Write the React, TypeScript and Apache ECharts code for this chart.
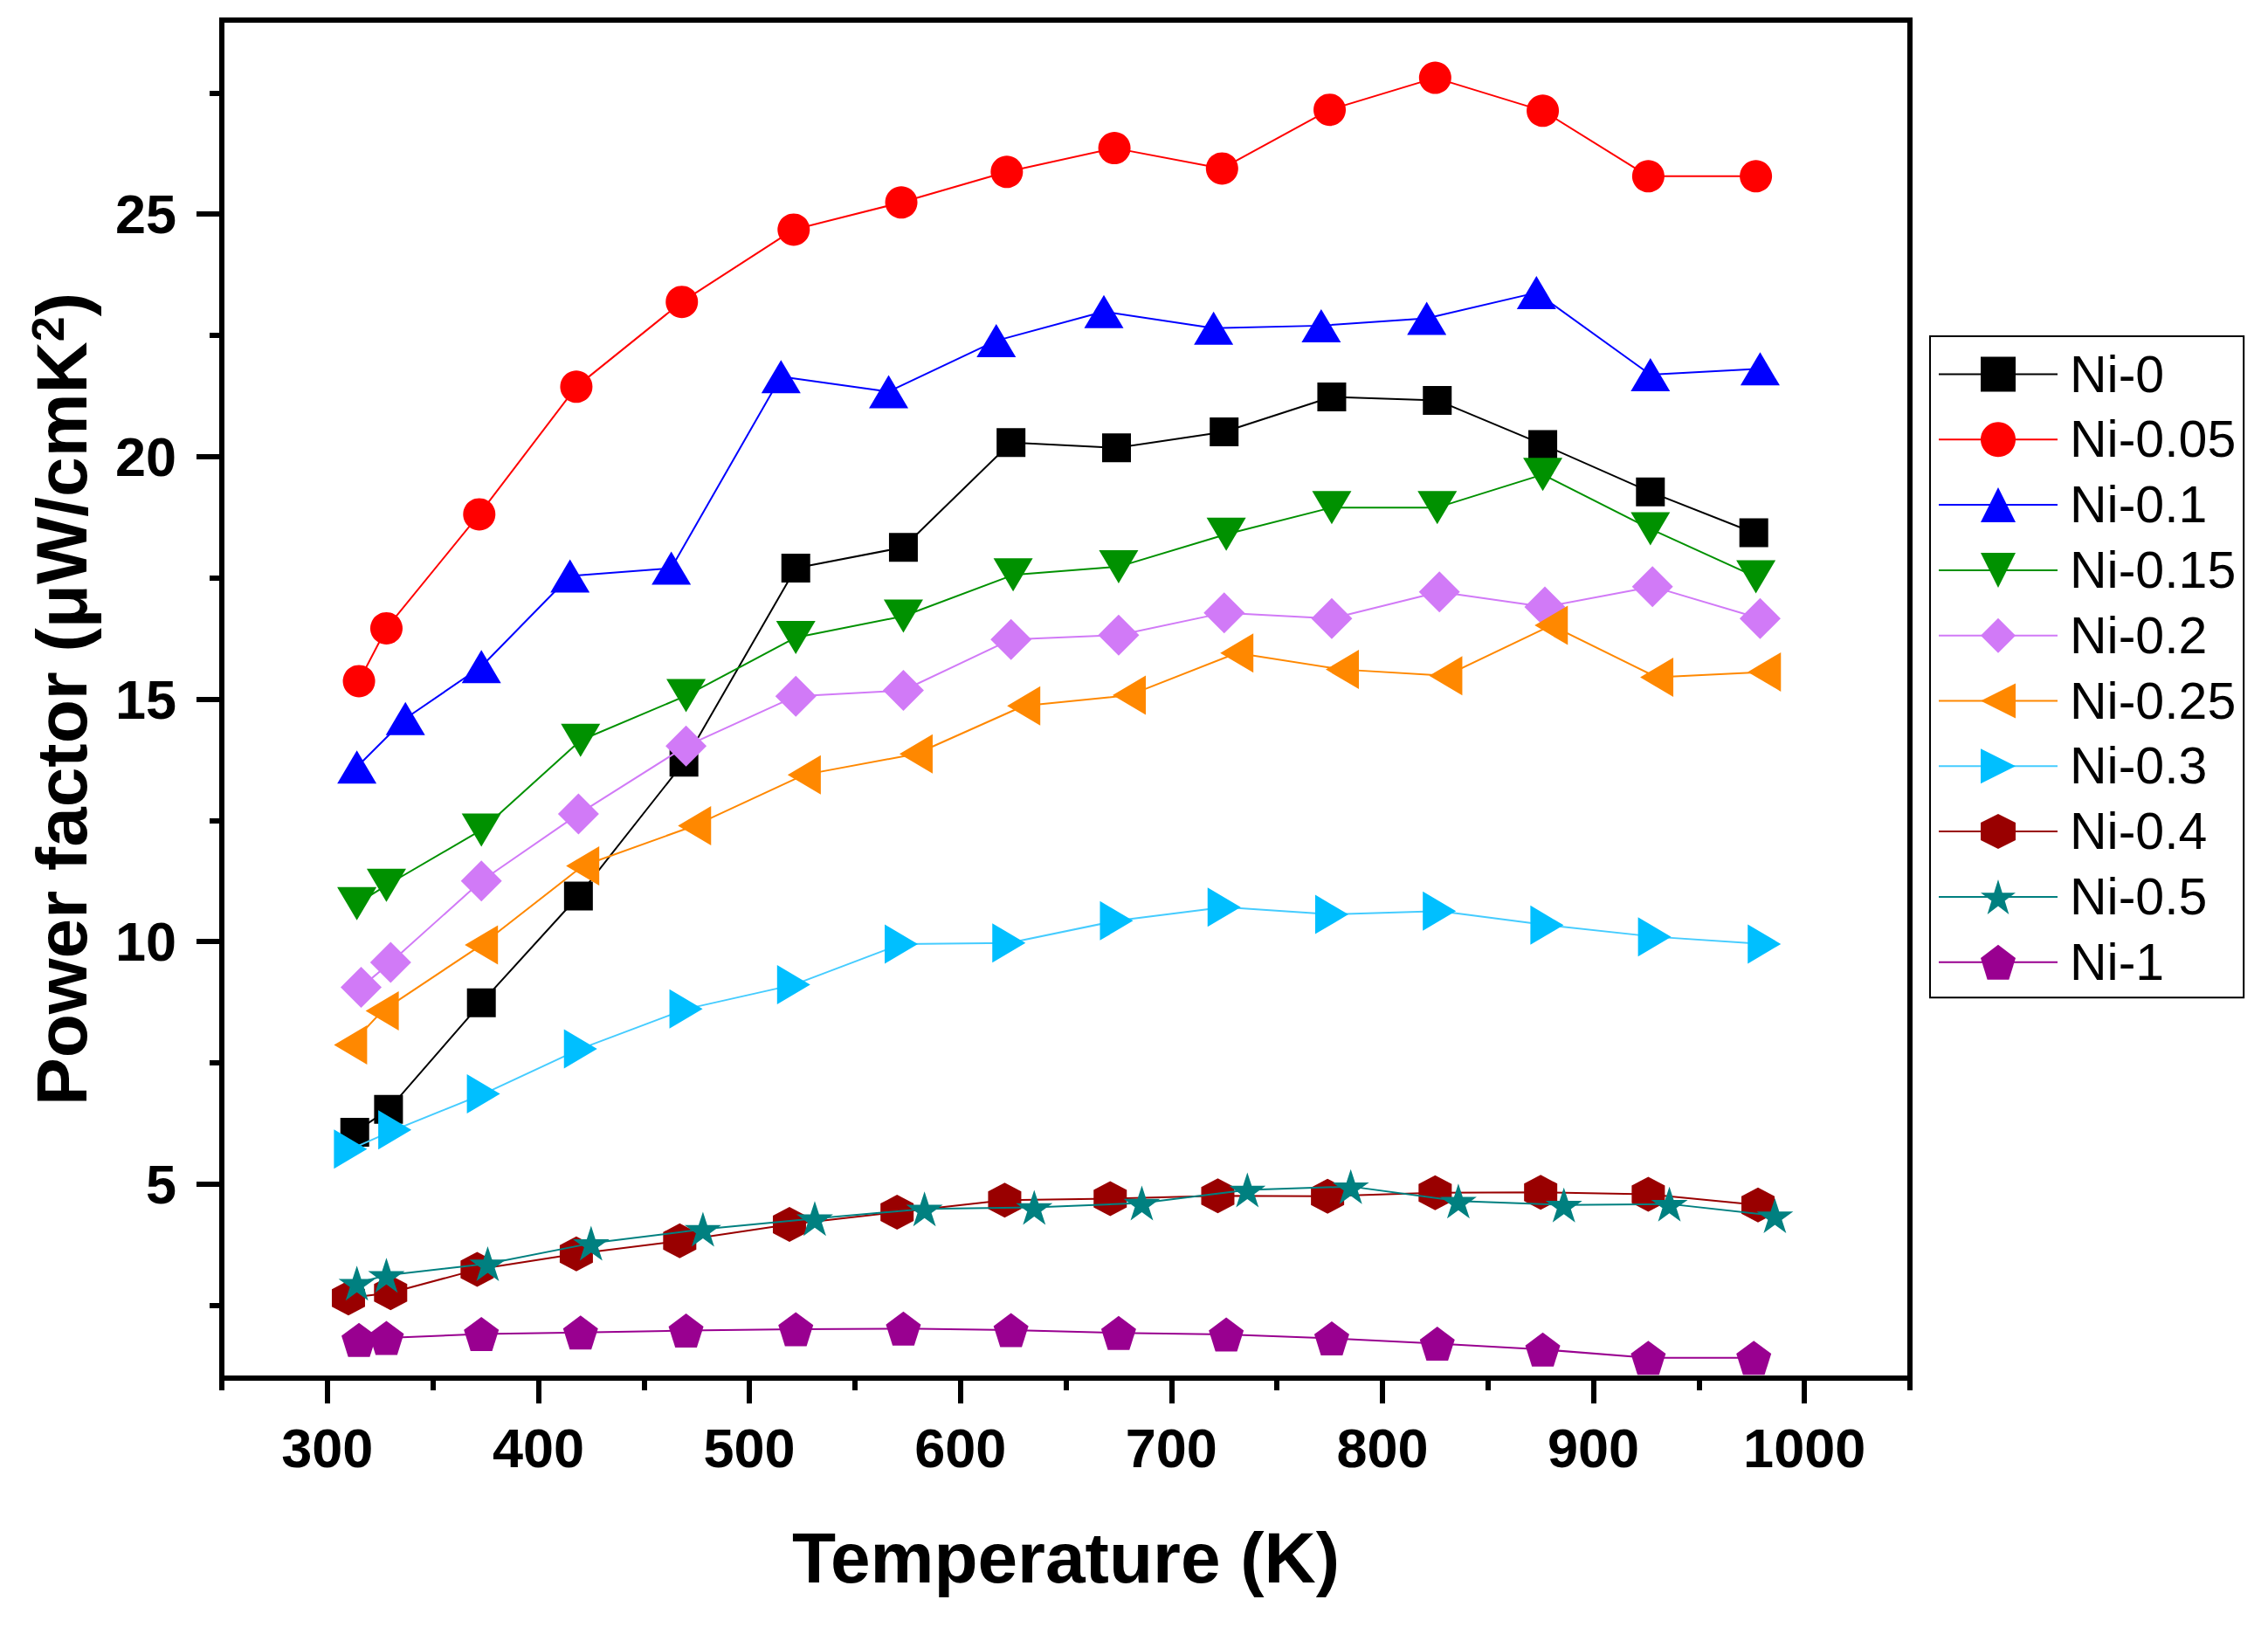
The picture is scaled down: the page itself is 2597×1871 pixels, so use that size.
import React, { useEffect, useRef } from 'react';
import * as echarts from 'echarts';

// ---------- data ----------
const seriesNames = ['Ni-0', 'Ni-0.05', 'Ni-0.1', 'Ni-0.15', 'Ni-0.2', 'Ni-0.25', 'Ni-0.3', 'Ni-0.4', 'Ni-0.5', 'Ni-1'];

const T_Ni0 = [313, 329, 373, 419, 469, 522, 573, 624, 674, 725, 776, 826, 876, 927, 976];
const PF_Ni0 = [6.07, 6.54, 8.74, 10.94, 13.7, 17.7, 18.13, 20.29, 20.18, 20.51, 21.23, 21.16, 20.25, 19.27, 18.43];

const T_Ni005 = [315, 328, 372, 418, 468, 521, 572, 622, 673, 724, 775, 825, 876, 926, 977];
const PF_Ni005 = [15.37, 16.46, 18.81, 21.44, 23.19, 24.68, 25.24, 25.87, 26.36, 25.94, 27.15, 27.81, 27.13, 25.78, 25.78];

const T_Ni01 = [314, 337, 373, 415, 463, 515, 566, 617, 668, 720, 771, 821, 873, 927, 979];
const PF_Ni01 = [13.6, 14.6, 15.67, 17.54, 17.7, 21.65, 21.34, 22.39, 22.99, 22.65, 22.7, 22.85, 23.38, 21.69, 21.81];

const T_Ni015 = [314, 328, 373, 420, 470, 522, 573, 625, 675, 726, 776, 826, 876, 927, 977];
const PF_Ni015 = [10.78, 11.16, 12.3, 14.15, 15.07, 16.27, 16.71, 17.56, 17.73, 18.4, 18.95, 18.95, 19.63, 18.51, 17.52];

const T_Ni02 = [316, 330, 373, 419, 470, 522, 573, 624, 675, 725, 776, 827, 877, 928, 979];
const PF_Ni02 = [9.06, 9.57, 11.25, 12.63, 14.03, 15.06, 15.18, 16.23, 16.32, 16.78, 16.66, 17.21, 16.9, 17.32, 16.66];

const T_Ni025 = [311, 326, 373, 421, 474, 526, 579, 630, 680, 731, 781, 830, 880, 930, 981];
const PF_Ni025 = [7.87, 8.57, 9.93, 11.56, 12.39, 13.44, 13.87, 14.86, 15.08, 15.95, 15.61, 15.48, 16.52, 15.45, 15.56];

const T_Ni03 = [311, 332, 374, 420, 470, 521, 572, 623, 674, 725, 776, 827, 878, 929, 981];
const PF_Ni03 = [5.72, 6.12, 6.86, 7.79, 8.61, 9.11, 9.95, 9.97, 10.43, 10.71, 10.56, 10.63, 10.34, 10.1, 9.95];

const T_Ni04 = [310, 330, 371, 418, 467, 519, 570, 621, 671, 722, 774, 825, 875, 926, 978];
const PF_Ni04 = [2.65, 2.76, 3.24, 3.56, 3.83, 4.17, 4.42, 4.67, 4.7, 4.76, 4.75, 4.82, 4.83, 4.79, 4.57];

const T_Ni05 = [314, 328, 376, 425, 478, 531, 583, 635, 686, 736, 785, 836, 886, 936, 986];
const PF_Ni05 = [2.96, 3.12, 3.36, 3.78, 4.07, 4.29, 4.49, 4.52, 4.61, 4.88, 4.95, 4.65, 4.57, 4.59, 4.35];

const T_Ni1 = [315, 328, 373, 420, 470, 522, 573, 624, 675, 726, 776, 826, 876, 926, 976];
const PF_Ni1 = [1.79, 1.83, 1.91, 1.94, 1.98, 2.01, 2.02, 1.99, 1.93, 1.9, 1.82, 1.71, 1.59, 1.42, 1.42];

const temps = [T_Ni0, T_Ni005, T_Ni01, T_Ni015, T_Ni02, T_Ni025, T_Ni03, T_Ni04, T_Ni05, T_Ni1];
const values = [PF_Ni0, PF_Ni005, PF_Ni01, PF_Ni015, PF_Ni02, PF_Ni025, PF_Ni03, PF_Ni04, PF_Ni05, PF_Ni1];

const xMajorTicks = [300, 400, 500, 600, 700, 800, 900, 1000];
const xMinorTicks = [250, 350, 450, 550, 650, 750, 850, 950, 1050];
const yMajorTicks = [5, 10, 15, 20, 25];
const yMinorTicks = [2.5, 7.5, 12.5, 17.5, 22.5, 27.5];

// ---------- styles ----------
const FONT = '"Liberation Sans", Arial, Helvetica, sans-serif';

const HEXAGON = 'path://M0,-1 L0.866,-0.5 L0.866,0.5 L0,1 L-0.866,0.5 L-0.866,-0.5 Z';
const STAR = 'path://M0,-1 L0.2245,-0.309 L0.951,-0.309 L0.363,0.118 L0.588,0.809 L0,0.382 L-0.588,0.809 L-0.363,0.118 L-0.951,-0.309 L-0.2245,-0.309 Z';
const PENTAGON = 'path://M0,-1 L0.951,-0.309 L0.588,0.809 L-0.588,0.809 L-0.951,-0.309 Z';

const styles = [
  { color: '#000000', line: '#000000', symbol: 'rect', size: [33, 33], rotate: 0 },
  { color: '#FF0000', line: '#FF0000', symbol: 'circle', size: [37, 37], rotate: 0 },
  { color: '#0000FF', line: '#0000FF', symbol: 'triangle', size: [45, 38], rotate: 0 },
  { color: '#009100', line: '#009100', symbol: 'triangle', size: [45, 38], rotate: 180 },
  { color: '#D17AF7', line: '#D17AF7', symbol: 'diamond', size: [47, 47], rotate: 0 },
  { color: '#FF8800', line: '#FF8800', symbol: 'triangle', size: [45, 38], rotate: 90 },
  { color: '#00BFFF', line: '#45CCFF', symbol: 'triangle', size: [45, 38], rotate: -90 },
  { color: '#990000', line: '#990000', symbol: HEXAGON, size: [38, 40], rotate: 0 },
  { color: '#008080', line: '#008080', symbol: STAR, size: [42, 40], rotate: 0 },
  { color: '#990090', line: '#990090', symbol: PENTAGON, size: [40, 39], rotate: 0 },
];

export default function App() {
  const ref = useRef<HTMLDivElement>(null);

  useEffect(() => {
    document.body.style.margin = '0';
    if (!ref.current) return;
    const chart = echarts.init(ref.current, null, { renderer: 'svg' });

    const series = seriesNames.map((name, i) => ({
      type: 'line',
      name,
      data: temps[i].map((t, j) => [t, values[i][j]]),
      symbol: styles[i].symbol,
      symbolSize: styles[i].size,
      symbolRotate: styles[i].rotate,
      itemStyle: { color: styles[i].color, opacity: 1 },
      lineStyle: { color: styles[i].line, width: 2 },
      emphasis: { disabled: true },
      z: 2 + i,
    }));

    const tickStyle = { color: '#000', width: 6 };
    const plain = (v: number) => String(v);

    chart.setOption({
      animation: false,
      backgroundColor: '#fff',
      grid: {
        left: 254,
        right: 410,
        top: 23,
        bottom: 293,
        show: true,
        borderColor: '#000',
        borderWidth: 6,
        backgroundColor: 'transparent',
      },
      legend: {
        orient: 'vertical',
        left: 2210,
        top: 385,
        itemWidth: 136,
        itemHeight: 50,
        itemGap: 15.8,
        padding: [14, 9, 11, 9],
        borderColor: '#000',
        borderWidth: 2,
        backgroundColor: '#fff',
        selectedMode: false,
        textStyle: { fontSize: 59, color: '#000', fontFamily: FONT, padding: [0, 0, 0, 9] },
        data: seriesNames,
      },
      xAxis: [
        {
          type: 'value',
          min: 250,
          max: 1050,
          position: 'bottom',
          axisLine: { show: true, onZero: false, lineStyle: tickStyle },
          axisTick: { show: true, customValues: xMajorTicks, length: 29, lineStyle: tickStyle },
          axisLabel: {
            customValues: xMajorTicks,
            formatter: plain,
            margin: 48,
            fontSize: 63,
            fontWeight: 'bold',
            color: '#000',
            fontFamily: FONT,
          },
          splitLine: { show: false },
          name: 'Temperature (K)',
          nameLocation: 'middle',
          nameGap: 164,
          nameTextStyle: { fontSize: 82, fontWeight: 'bold', color: '#000', fontFamily: FONT },
        },
        {
          type: 'value',
          min: 250,
          max: 1050,
          position: 'bottom',
          axisLine: { show: false, onZero: false },
          axisTick: { show: true, customValues: xMinorTicks, length: 14, lineStyle: tickStyle },
          axisLabel: { show: false },
          splitLine: { show: false },
        },
      ],
      yAxis: [
        {
          type: 'value',
          min: 1,
          max: 29,
          position: 'left',
          axisLine: { show: true, onZero: false, lineStyle: tickStyle },
          axisTick: { show: true, customValues: yMajorTicks, length: 29, lineStyle: tickStyle },
          axisLabel: {
            customValues: yMajorTicks,
            formatter: plain,
            margin: 52,
            fontSize: 63,
            fontWeight: 'bold',
            color: '#000',
            fontFamily: FONT,
          },
          splitLine: { show: false },
          name: 'Power factor (μW/cmK{sup|2})',
          nameLocation: 'middle',
          nameGap: 143,
          nameTextStyle: {
            fontSize: 82,
            fontWeight: 'bold',
            color: '#000',
            fontFamily: FONT,
            rich: {
              sup: { fontSize: 52, fontWeight: 'bold', color: '#000', fontFamily: FONT, verticalAlign: 'top' },
            },
          },
        },
        {
          type: 'value',
          min: 1,
          max: 29,
          position: 'left',
          axisLine: { show: false, onZero: false },
          axisTick: { show: true, customValues: yMinorTicks, length: 14, lineStyle: tickStyle },
          axisLabel: { show: false },
          splitLine: { show: false },
        },
      ],
      series,
    });

    return () => {
      chart.dispose();
    };
  }, []);

  return (
    <div
      ref={ref}
      style={{ position: 'fixed', left: 0, top: 0, width: '2597px', height: '1871px', background: '#fff' }}
    />
  );
}
